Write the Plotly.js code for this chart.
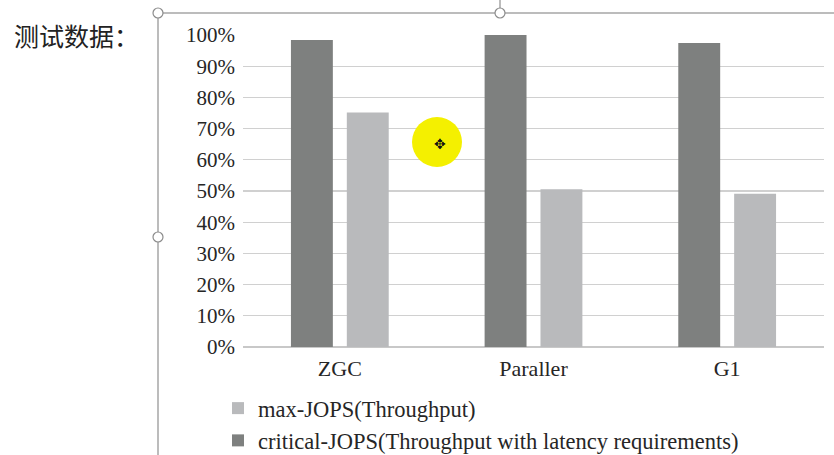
<!DOCTYPE html>
<html>
<head>
<meta charset="utf-8">
<script src="https://cdn.plot.ly/plotly-3.0.1.min.js"></script>
<style>html,body{margin:0;padding:0;background:#fff;}#chart{width:834px;height:455px;}</style>
</head>
<body>
<div id="chart"></div>
<script>
const categories = ["ZGC", "Paraller", "G1"];
const criticalJOPS = [0.984, 1.0, 0.974];
const maxJOPS = [0.752, 0.506, 0.491];
const seriesNames = ["critical-JOPS(Throughput with latency requirements)", "max-JOPS(Throughput)"];
const yTickVals = [0, 0.1, 0.2, 0.3, 0.4, 0.5, 0.6, 0.7, 0.8, 0.9, 1.0];
const yTickText = ["0%", "10%", "20%", "30%", "40%", "50%", "60%", "70%", "80%", "90%", "100%"];

const W = 834, H = 455, L = 243, R = 10, T = 35, B = 108;
const pw = W - L - R, ph = H - T - B;
const px = x => (x - L) / pw;
const py = y => (H - B - y) / ph;

const serif = "Liberation Serif";
const textColor = "#262626";

const traces = [
  {type: "bar", name: seriesNames[0], x: categories, y: criticalJOPS,
   marker: {color: "#7e807f"}, hoverinfo: "skip"},
  {type: "bar", name: seriesNames[1], x: categories, y: maxJOPS,
   marker: {color: "#b9babc"}, hoverinfo: "skip"}
];

const frameColor = "#a6a6a6";
const handle = (cx, cy) => ({type: "circle", xref: "paper", yref: "paper",
  x0: px(cx - 5), x1: px(cx + 5), y0: py(cy + 5), y1: py(cy - 5),
  fillcolor: "#ffffff", line: {color: "#8c8c8c", width: 1.2}, layer: "above"});

const layout = {
  width: W, height: H,
  margin: {l: L, r: R, t: T, b: B, pad: 0, autoexpand: false},
  paper_bgcolor: "#ffffff", plot_bgcolor: "#ffffff",
  barmode: "group", bargap: 0.423, bargroupgap: 0.25,
  font: {family: serif, size: 22, color: textColor},
  xaxis: {type: "category", showgrid: false, zeroline: false, showline: false,
    ticks: "", tickfont: {family: serif, size: 22, color: textColor}, ticklabelstandoff: 6},
  yaxis: {range: [0, 1.0], tickvals: yTickVals, ticktext: yTickText,
    showgrid: true, gridcolor: "#d0d0d0", gridwidth: 1.3, zeroline: true,
    zerolinecolor: "#c8c8c8", zerolinewidth: 1.3, showline: false, ticks: "",
    ticklabelstandoff: 7, tickfont: {family: serif, size: 21, color: textColor}},
  showlegend: true,
  legend: {orientation: "v", traceorder: "reversed", x: px(218), xanchor: "left",
    y: py(387), yanchor: "top", font: {family: serif, size: 22.5, color: textColor},
    bgcolor: "rgba(0,0,0,0)", tracegroupgap: 0, itemclick: false},
  shapes: [
    {type: "line", xref: "paper", yref: "paper", x0: px(158), x1: px(834), y0: py(13), y1: py(13),
     line: {color: frameColor, width: 1.5}},
    {type: "line", xref: "paper", yref: "paper", x0: px(158), x1: px(158), y0: py(13), y1: py(455),
     line: {color: frameColor, width: 1.5}},
    {type: "line", xref: "paper", yref: "paper", x0: px(500), x1: px(500), y0: py(0), y1: py(13),
     line: {color: frameColor, width: 1.5}},
    handle(158, 13), handle(500, 13), handle(158, 237),
    {type: "circle", xref: "paper", yref: "paper", x0: px(412), x1: px(462), y0: py(167), y1: py(117),
     fillcolor: "#f4f000", line: {width: 0}, layer: "above"}
  ],
  annotations: [
    {xref: "paper", yref: "paper", x: px(12), y: py(35), xanchor: "left", yanchor: "middle",
     text: "测试数据：", showarrow: false,
     font: {family: "Noto Sans CJK SC", size: 25, color: "#222222"}},
    {xref: "paper", yref: "paper", x: px(440), y: py(144), xanchor: "center", yanchor: "middle",
     text: "✥", showarrow: false, font: {family: "DejaVu Sans", size: 14, color: "#111111"}}
  ]
};

Plotly.newPlot("chart", traces, layout, {displayModeBar: false, staticPlot: true});
</script>
</body>
</html>
